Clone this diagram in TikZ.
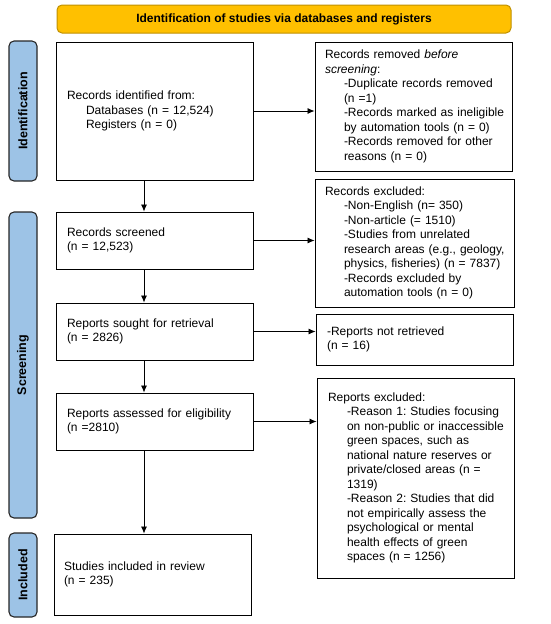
\documentclass[tikz,border=0pt]{standalone}
\usepackage{fontspec}
\setmainfont{Liberation Sans}
\usetikzlibrary{arrows.meta}
\definecolor{bannerfill}{HTML}{FFC000}
\definecolor{bannerdraw}{HTML}{BF9000}
\definecolor{sidefill}{HTML}{9DC3E6}
\newcommand{\ind}{\hspace*{19pt}}
\newcommand{\li}[1]{\mbox{#1}}
\tikzset{
  box/.style={draw=black, line width=0.9pt, fill=white, align=left, inner ysep=2pt,
    font=\fontsize{12}{14.5}\selectfont\frenchspacing},
  side/.style={draw=black!85, line width=1.1pt, fill=sidefill, rounded corners=5pt,
    minimum height=28pt, font=\fontsize{12.5}{14}\selectfont\bfseries},
  flow/.style={-{Latex[length=7pt,width=6pt]}, line width=0.8pt},
}
\begin{document}
\begin{tikzpicture}[x=1pt,y=-1pt]
\useasboundingbox (0,0) rectangle (550,624);
% banner
\node[draw=bannerdraw, line width=1pt, fill=bannerfill, rounded corners=5pt,
  minimum width=454pt, minimum height=28pt, font=\fontsize{12}{14}\selectfont\bfseries]
  (banner) at (284,19) {Identification of studies via databases and registers};
% side labels
\node[side, minimum width=140pt, rotate=90] (sid) at (23,111) {Identification};
\node[side, minimum width=306pt, rotate=90] (sscr) at (23,365) {Screening};
\node[side, minimum width=84pt, rotate=90] (sinc) at (23,575) {Included};
% left boxes
\node[box, text width=175pt, inner xsep=11pt, minimum height=138pt] (b1) at (154.5,111)
  {\li{Records identified from:}\\ \li{\ind Databases (n = 12,524)}\\ \li{\ind Registers (n = 0)}};
\node[box, text width=175pt, inner xsep=11pt, minimum height=57pt] (scr) at (154.5,240.5)
  {\li{Records screened}\\\li{(n = 12,523)}};
\node[box, text width=175pt, inner xsep=11pt, minimum height=57pt] (sou) at (154.5,331.5)
  {\li{Reports sought for retrieval}\\\li{(n = 2826)}};
\node[box, text width=175pt, inner xsep=11pt, minimum height=57pt] (ass) at (154.5,421.5)
  {\li{Reports assessed for eligibility}\\\li{(n =2810)}};
\node[box, text width=177pt, inner xsep=10pt, minimum height=81pt] (inc) at (152.5,574.5)
  {\li{Studies included in review}\\\li{(n = 235)}};
% right boxes
\node[box, text width=177pt, inner xsep=10pt, minimum height=129pt] (rem) at (413.5,106.5)
  {\li{Records removed \textit{before}}\\ \li{\textit{screening}:}\\ \li{\ind-Duplicate records removed}\\ \li{\ind(n =1)}\\ \li{\ind-Records marked as ineligible}\\ \li{\ind by automation tools (n = 0)}\\ \li{\ind-Records removed for other}\\ \li{\ind reasons (n = 0)}};
\node[box, text width=179pt, inner xsep=10pt, minimum height=128pt] (exc) at (414.5,243)
  {\li{Records excluded:}\\ \li{\ind-Non-English (n= 350)}\\ \li{\ind-Non-article (= 1510)}\\ \li{\ind-Studies from unrelated}\\ \li{\ind research areas (e.g., geology,}\\ \li{\ind physics, fisheries) (n = 7837)}\\ \li{\ind-Records excluded by}\\ \li{\ind automation tools (n = 0)}};
\node[box, text width=175pt, inner xsep=11pt, minimum height=51pt] (nret) at (414.5,339.5)
  {\li{-Reports not retrieved}\\\li{(n = 16)}};
\node[box, text width=175pt, inner xsep=11pt, minimum height=200pt] (rexc) at (415.5,478)
  {\li{Reports excluded:}\\ \li{\ind-Reason 1: Studies focusing}\\ \li{\ind on non-public or inaccessible}\\ \li{\ind green spaces, such as}\\ \li{\ind national nature reserves or}\\ \li{\ind private/closed areas (n =}\\ \li{\ind 1319)}\\ \li{\ind-Reason 2: Studies that did}\\ \li{\ind not empirically assess the}\\ \li{\ind psychological or mental}\\ \li{\ind health effects of green}\\ \li{\ind spaces (n = 1256)}};
% horizontal arrows
\draw[flow] (b1.east) -- (b1.east -| rem.west);
\draw[flow] (scr.east) -- (scr.east -| exc.west);
\draw[flow] (sou.east) -- (sou.east -| nret.west);
\draw[flow] (ass.east) -- (ass.east -| rexc.west);
% vertical arrows
\draw[flow] ([xshift=-10.5pt]b1.south) -- ([xshift=-10.5pt]b1.south |- scr.north);
\draw[flow] ([xshift=-10.5pt]scr.south) -- ([xshift=-10.5pt]scr.south |- sou.north);
\draw[flow] ([xshift=-10.5pt]sou.south) -- ([xshift=-10.5pt]sou.south |- ass.north);
\draw[flow] ([xshift=-10.5pt]ass.south) -- ([xshift=-10.5pt]ass.south |- inc.north);
\end{tikzpicture}
\end{document}
